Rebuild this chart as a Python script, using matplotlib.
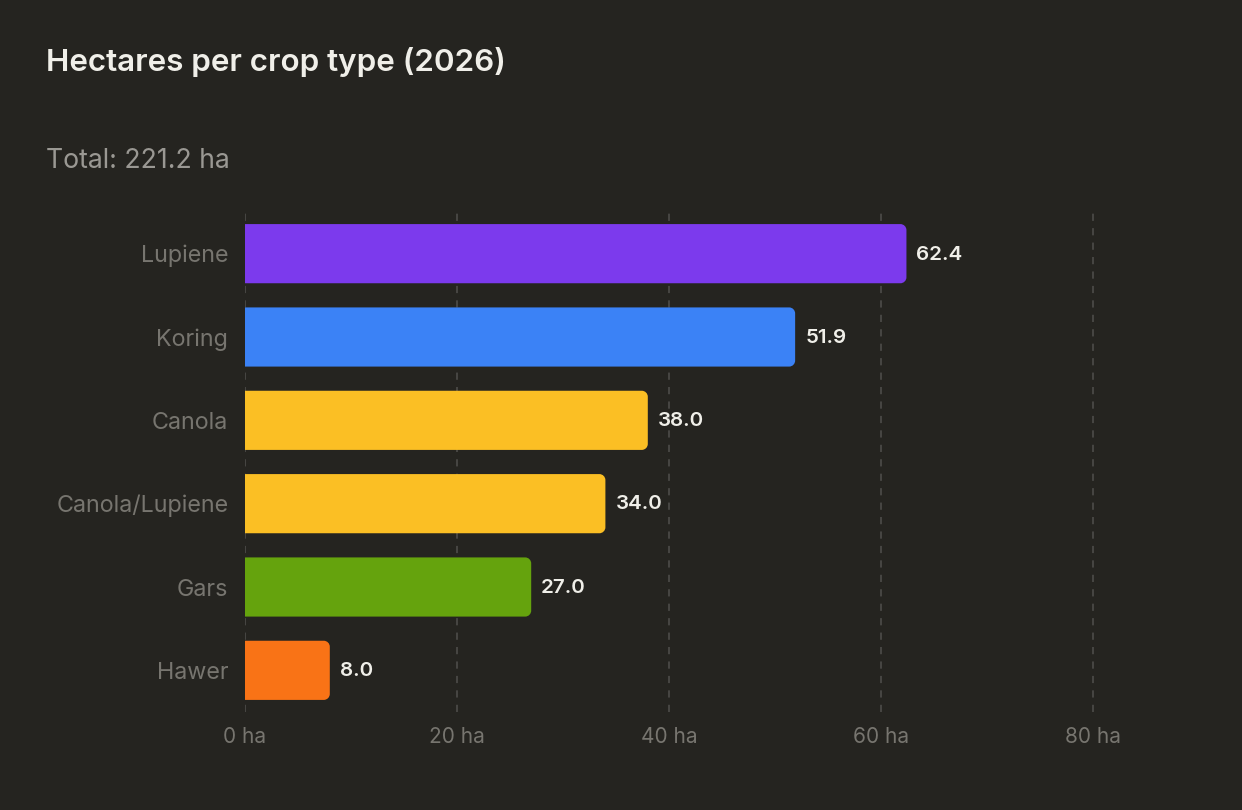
import matplotlib
matplotlib.use("Agg")
import matplotlib.pyplot as plt
from matplotlib.path import Path
from matplotlib.patches import PathPatch
from matplotlib.ticker import FixedLocator, FuncFormatter

categories = ["Lupiene", "Koring", "Canola", "Canola/Lupiene", "Gars", "Hawer"]
values = [62.4, 51.9, 38.0, 34.0, 27.0, 8.0]
colors = ["#7c3aed", "#3b82f6", "#fbbf24", "#fbbf24", "#65a30d", "#f97316"]
xticks = [0, 20, 40, 60, 80]
title = "Hectares per crop type (2026)"
subtitle = "Total: 221.2 ha"

BG = "#252420"
plt.rcParams['font.family'] = ['Inter', 'DejaVu Sans']

fig = plt.figure(figsize=(12.42, 8.10), dpi=100, facecolor=BG)
W, H = 1242, 810
left, right, top, bottom = 245, 1180, 212, 712
ax = fig.add_axes([left / W, 1 - bottom / H, (right - left) / W, (bottom - top) / H])
ax.set_facecolor(BG)

y = list(range(len(categories)))
bars = ax.barh(y, values, height=0.71, color=colors, zorder=3)
ax.set_ylim(len(categories) - 0.5, -0.5)
ax.set_xlim(0, (right - left) / 10.6)

# Replace rectangles with right-rounded versions
px_x = 10.6
px_y = (bottom - top) / len(categories)
r = 6.0
for b, c in zip(bars, colors):
    x0, y0 = b.get_x(), b.get_y()
    w, h = b.get_width(), b.get_height()
    rx = min(r / px_x, w / 2)
    ry = r / px_y
    x1, y1 = x0 + w, y0 + h
    k = 0.5523
    verts = [
        (x0, y0), (x1 - rx, y0),
        (x1 - rx + k * rx, y0), (x1, y0 + ry - k * ry), (x1, y0 + ry),
        (x1, y1 - ry),
        (x1, y1 - ry + k * ry), (x1 - rx + k * rx, y1), (x1 - rx, y1),
        (x0, y1), (x0, y0),
    ]
    codes = [Path.MOVETO, Path.LINETO,
             Path.CURVE4, Path.CURVE4, Path.CURVE4,
             Path.LINETO,
             Path.CURVE4, Path.CURVE4, Path.CURVE4,
             Path.LINETO, Path.CLOSEPOLY]
    ax.add_patch(PathPatch(Path(verts, codes), facecolor=c, edgecolor="none", zorder=3))
    b.set_visible(False)
    ax.text(x1 + 10 / px_x, y0 + h / 2 + 0.01, f"{w:.1f}", color="#f0efe9", fontsize=14.8,
            fontweight="semibold", va="center", ha="left", zorder=4)

ax.xaxis.set_major_locator(FixedLocator(xticks))
ax.xaxis.set_major_formatter(FuncFormatter(lambda v, p: f"{v:.0f} ha"))
ax.set_yticks(y)
ax.set_yticklabels(categories)
ax.tick_params(axis="both", length=0, colors="#77756f")
ax.tick_params(axis="x", pad=11, labelsize=15)
ax.tick_params(axis="y", pad=12, labelsize=16.8)
for s in ax.spines.values():
    s.set_visible(False)
ax.grid(axis="x", color="#4a4946", linestyle=(0, (4, 4)), linewidth=1.3, zorder=1)
ax.grid(axis="y", visible=False)

fig.text(46 / W, 1 - 62 / H, title, color="#f0efe9", fontsize=22.6,
         fontweight="semibold", va="center", ha="left")
fig.text(46 / W, 1 - 161 / H, subtitle, color="#9a9893", fontsize=19.2,
         va="center", ha="left")

fig.savefig("out.png", dpi=100, facecolor=BG)
